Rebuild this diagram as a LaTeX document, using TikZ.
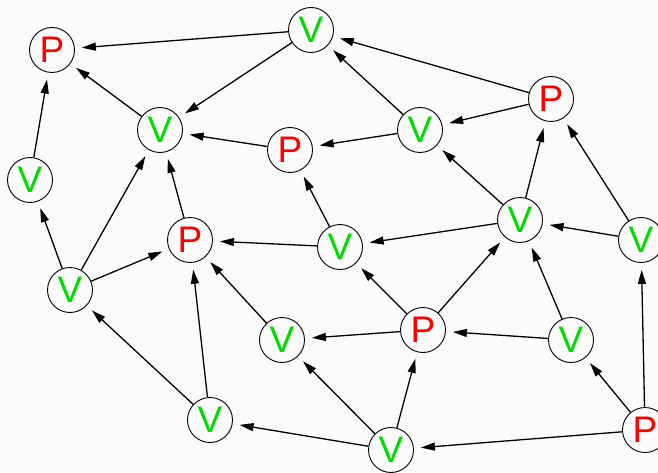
\documentclass[tikz,border=0pt]{standalone}
\usepackage{fontspec}
\setmainfont{Liberation Sans}
\usetikzlibrary{arrows.meta}
\definecolor{pred}{RGB}{255,0,0}
\definecolor{vgreen}{RGB}{0,220,0}
\definecolor{bg}{RGB}{251,251,251}
\begin{document}
\begin{tikzpicture}[x=1pt,y=-1pt,
  nd/.style={circle,draw=black,line width=0.9pt,minimum size=45pt,inner sep=0pt,font=\fontsize{37}{37}\selectfont},
  pn/.style={nd,text=pred},
  vn/.style={nd,text=vgreen},
  edge/.style={line width=1.3pt,-{Triangle[length=14pt,width=8pt]},shorten >=7pt}]
\fill[bg] (0,0) rectangle (658,473);
\useasboundingbox (0,0) rectangle (658,473);
\node[pn] (P1) at (52,50) {P};
\node[vn] (V1) at (311,30) {V};
\node[vn] (V2) at (160,130) {V};
\node[pn] (P3) at (290,150) {P};
\node[vn] (V3) at (420,130) {V};
\node[pn] (P2) at (551,99) {P};
\node[vn] (V4) at (30,180) {V};
\node[vn] (V5) at (520,220) {V};
\node[pn] (P4) at (190,240) {P};
\node[vn] (V6) at (340,247) {V};
\node[vn] (V7) at (641,240) {V};
\node[vn] (V8) at (70,290) {V};
\node[pn] (P5) at (423,330) {P};
\node[vn] (V9) at (282,340) {V};
\node[vn] (V10) at (571,340) {V};
\node[vn] (V11) at (210,420) {V};
\node[vn] (V12) at (391,450) {V};
\node[pn] (P6) at (645,430) {P};
\foreach \a/\b in {V1/P1,V1/V2,V2/P1,V4/P1,P3/V2,V8/V2,P4/V2,V8/V4,V8/P4,
  V6/P4,V9/P4,V11/P4,V11/V8,V12/V11,P2/V1,V3/V1,P2/V3,V3/P3,V5/P2,V5/V3,
  V7/P2,V5/V6,V7/V5,V6/P3,P5/V9,P5/V6,P5/V5,V10/V5,V10/P5,V12/P5,V12/V9,
  P6/V12,P6/V10,P6/V7}
  \draw[edge] (\a) -- (\b);
\end{tikzpicture}
\end{document}
